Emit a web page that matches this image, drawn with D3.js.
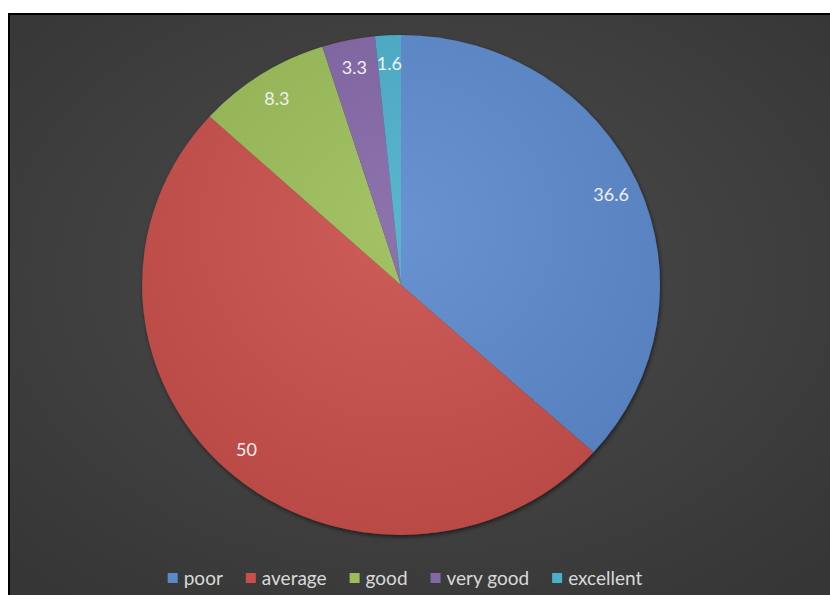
<!DOCTYPE html>
<meta charset="utf-8">
<style>
  body { margin: 0; background: #fff; }
</style>

<!-- Load d3.js -->
<script src="https://d3js.org/d3.v7.min.js"></script>

<div id="my_dataviz"></div>

<script>
// Chart data
var categories = ["poor", "average", "good", "very good", "excellent"];
var values = [36.6, 50, 8.3, 3.3, 1.6];
var colors = ["#5b89cc", "#c94f4b", "#9bbd59", "#8366a6", "#4bafca"];

var W = 830, H = 595;
var cx = 401, cy = 285;
var radius = 250, stretchX = 1.036;   // the picture is slightly wider than tall

var svg = d3.select("#my_dataviz")
  .append("svg")
    .attr("width", W)
    .attr("height", H);

var defs = svg.append("defs");

// Background gradient
var bg = defs.append("radialGradient")
    .attr("id", "bg")
    .attr("cx", "50%").attr("cy", "45%").attr("r", "70%");
bg.append("stop").attr("offset", "0%").attr("stop-color", "#4c4c4c");
bg.append("stop").attr("offset", "100%").attr("stop-color", "#363636");

// Soft shadow under the pie
var shadow = defs.append("filter")
    .attr("id", "shadow")
    .attr("x", "-10%").attr("y", "-10%").attr("width", "120%").attr("height", "120%");
shadow.append("feDropShadow")
    .attr("dx", 1).attr("dy", 2).attr("stdDeviation", 2)
    .attr("flood-color", "#000").attr("flood-opacity", 0.55);

// Slight shading on slices
var shade = defs.append("radialGradient")
    .attr("id", "shade")
    .attr("gradientUnits", "userSpaceOnUse")
    .attr("cx", 0).attr("cy", -60).attr("r", radius * 1.3);
shade.append("stop").attr("offset", "0%").attr("stop-color", "#fff").attr("stop-opacity", 0.08);
shade.append("stop").attr("offset", "100%").attr("stop-color", "#000").attr("stop-opacity", 0.08);

// Chart area with black left/top border
svg.append("rect")
    .attr("x", 8).attr("y", 13)
    .attr("width", W - 8).attr("height", H - 13)
    .attr("fill", "url(#bg)");
svg.append("path")
    .attr("d", `M9,${H}V14H${W}`)
    .attr("fill", "none")
    .attr("stroke", "#000")
    .attr("stroke-width", 2);

var data = categories.map((c, i) => ({name: c, value: values[i], color: colors[i]}));

var pie = d3.pie()
    .sort(null)
    .value(d => d.value);

var arc = d3.arc()
    .innerRadius(0)
    .outerRadius(radius);

var labelR = 222;
var arcLabel = d3.arc()
    .innerRadius(labelR)
    .outerRadius(labelR);

var arcs = pie(data);

var g = svg.append("g")
    .attr("transform", `translate(${cx},${cy}) scale(${stretchX},1)`);

g.append("g")
    .attr("filter", "url(#shadow)")
  .selectAll()
  .data(arcs)
  .join("path")
    .attr("fill", d => d.data.color)
    .attr("d", arc);

g.append("circle")
    .attr("r", radius)
    .attr("fill", "url(#shade)");

// Value labels
svg.append("g")
    .attr("text-anchor", "middle")
    .attr("font-family", "Lato, Liberation Sans, Arial, sans-serif")
    .attr("font-size", 18)
    .attr("fill", "#eef0f2")
  .selectAll()
  .data(arcs)
  .join("text")
    .attr("x", d => cx + arcLabel.centroid(d)[0] * stretchX)
    .attr("y", d => cy + arcLabel.centroid(d)[1])
    .attr("dy", "0.36em")
    .text(d => d.data.value);

// Legend
var legend = svg.append("g")
    .attr("font-family", "Lato, Liberation Sans, Arial, sans-serif")
    .attr("font-size", 19)
    .attr("fill", "#d9d9d9");

var items = legend.selectAll("g")
  .data(data)
  .join("g");

items.append("rect")
    .attr("width", 10).attr("height", 10)
    .attr("y", -5)
    .attr("fill", d => d.color);

items.append("text")
    .attr("x", 16)
    .attr("dy", "0.35em")
    .text(d => d.name);

// lay out legend items in a row, centred
var x = 0, gap = 23;
items.each(function() {
  var w = 16 + d3.select(this).select("text").node().getComputedTextLength();
  d3.select(this).attr("data-x", x);
  x += w + gap;
});
var total = x - gap;
var x0 = 405 - total / 2;
items.attr("transform", function() {
  return `translate(${x0 + +this.getAttribute("data-x")},578)`;
});
</script>
